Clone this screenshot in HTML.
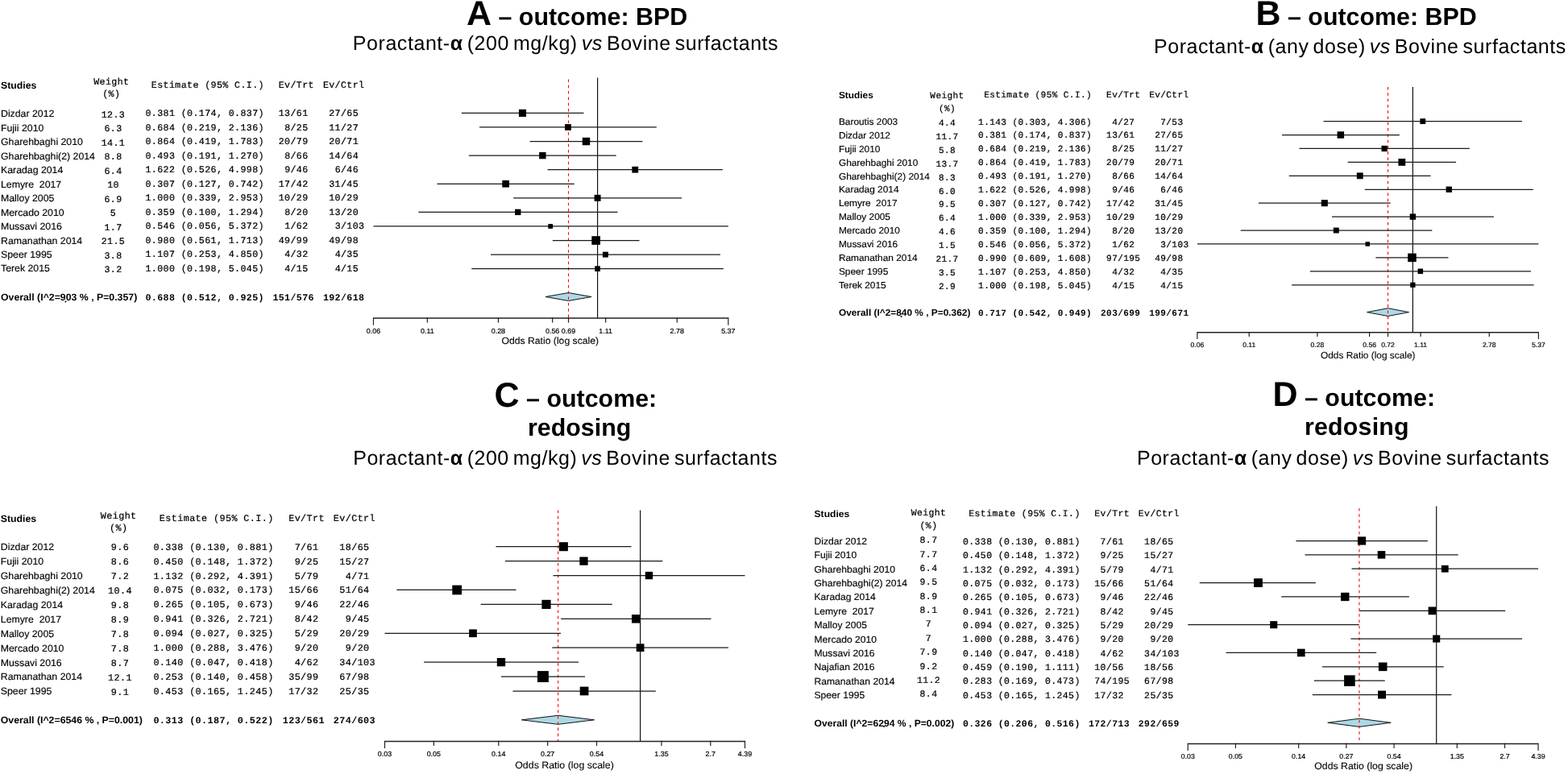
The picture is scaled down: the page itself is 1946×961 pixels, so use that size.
<!DOCTYPE html>
<html><head><meta charset="utf-8"><title>Forest plots</title>
<style>
html,body{margin:0;padding:0;background:#fff;}
svg{display:block;text-rendering:geometricPrecision;}
.s{font-family:"Liberation Sans",Arial,sans-serif;fill:#000;}
.m{font-family:"Liberation Mono","Courier New",monospace;fill:#000;}
.t{font-family:"Liberation Sans",Arial,sans-serif;fill:#000;}
.ci{stroke:#1a1a1a;stroke-width:1.25;}
</style></head>
<body>
<svg width="1946" height="961" viewBox="0 0 1946 961">
<rect width="1946" height="961" fill="#fff"/>
<text class="s" x="0.98" y="109.70" font-size="12" font-weight="bold" transform="scale(1.025,1)" xml:space="preserve">Studies</text>
<text class="m" x="116.19" y="105.00" font-size="11.61" letter-spacing="0.404" stroke="#000" stroke-width="0.22" xml:space="preserve">Weight</text>
<text class="m" x="127.25" y="120.00" font-size="11.61" letter-spacing="0.404" stroke="#000" stroke-width="0.22" xml:space="preserve">(%)</text>
<text class="m" x="180.50" y="108.50" font-size="11.61" letter-spacing="0.404" stroke="#000" stroke-width="0.22" xml:space="preserve"> Estimate (95% C.I.)</text>
<text class="m" x="345.76" y="108.50" font-size="11.61" letter-spacing="0.404" stroke="#000" stroke-width="0.22" xml:space="preserve">Ev/Trt</text>
<text class="m" x="400.89" y="108.50" font-size="11.61" letter-spacing="0.404" stroke="#000" stroke-width="0.22" xml:space="preserve">Ev/Ctrl</text>
<text class="s" x="0.98" y="145.10" font-size="12" stroke="#000" stroke-width="0.15" transform="scale(1.025,1)" xml:space="preserve">Dizdar 2012</text>
<text class="m" x="125.76" y="145.60" font-size="11.61" letter-spacing="0.404" stroke="#000" stroke-width="0.22" xml:space="preserve">12.3</text>
<text class="m" x="180.50" y="144.30" font-size="11.61" letter-spacing="0.404" stroke="#000" stroke-width="0.22" xml:space="preserve">0.381 (0.174, 0.837)</text>
<text class="m" x="345.76" y="144.30" font-size="11.61" letter-spacing="0.404" stroke="#000" stroke-width="0.22" xml:space="preserve">13/61</text>
<text class="m" x="408.26" y="144.30" font-size="11.61" letter-spacing="0.404" stroke="#000" stroke-width="0.22" xml:space="preserve">27/65</text>
<text class="s" x="0.98" y="162.59" font-size="12" stroke="#000" stroke-width="0.15" transform="scale(1.025,1)" xml:space="preserve">Fujii 2010</text>
<text class="m" x="129.44" y="163.09" font-size="11.61" letter-spacing="0.404" stroke="#000" stroke-width="0.22" xml:space="preserve">6.3</text>
<text class="m" x="180.50" y="161.79" font-size="11.61" letter-spacing="0.404" stroke="#000" stroke-width="0.22" xml:space="preserve">0.684 (0.219, 2.136)</text>
<text class="m" x="353.13" y="161.79" font-size="11.61" letter-spacing="0.404" stroke="#000" stroke-width="0.22" xml:space="preserve">8/25</text>
<text class="m" x="408.26" y="161.79" font-size="11.61" letter-spacing="0.404" stroke="#000" stroke-width="0.22" xml:space="preserve">11/27</text>
<text class="s" x="0.98" y="180.08" font-size="12" stroke="#000" stroke-width="0.15" transform="scale(1.025,1)" xml:space="preserve">Gharehbaghi 2010</text>
<text class="m" x="125.76" y="180.58" font-size="11.61" letter-spacing="0.404" stroke="#000" stroke-width="0.22" xml:space="preserve">14.1</text>
<text class="m" x="180.50" y="179.28" font-size="11.61" letter-spacing="0.404" stroke="#000" stroke-width="0.22" xml:space="preserve">0.864 (0.419, 1.783)</text>
<text class="m" x="345.76" y="179.28" font-size="11.61" letter-spacing="0.404" stroke="#000" stroke-width="0.22" xml:space="preserve">20/79</text>
<text class="m" x="408.26" y="179.28" font-size="11.61" letter-spacing="0.404" stroke="#000" stroke-width="0.22" xml:space="preserve">20/71</text>
<text class="s" x="0.98" y="197.57" font-size="12" stroke="#000" stroke-width="0.15" transform="scale(1.025,1)" xml:space="preserve">Gharehbaghi(2) 2014</text>
<text class="m" x="129.44" y="198.07" font-size="11.61" letter-spacing="0.404" stroke="#000" stroke-width="0.22" xml:space="preserve">8.8</text>
<text class="m" x="180.50" y="196.77" font-size="11.61" letter-spacing="0.404" stroke="#000" stroke-width="0.22" xml:space="preserve">0.493 (0.191, 1.270)</text>
<text class="m" x="353.13" y="196.77" font-size="11.61" letter-spacing="0.404" stroke="#000" stroke-width="0.22" xml:space="preserve">8/66</text>
<text class="m" x="408.26" y="196.77" font-size="11.61" letter-spacing="0.404" stroke="#000" stroke-width="0.22" xml:space="preserve">14/64</text>
<text class="s" x="0.98" y="215.06" font-size="12" stroke="#000" stroke-width="0.15" transform="scale(1.025,1)" xml:space="preserve">Karadag 2014</text>
<text class="m" x="129.44" y="215.56" font-size="11.61" letter-spacing="0.404" stroke="#000" stroke-width="0.22" xml:space="preserve">6.4</text>
<text class="m" x="180.50" y="214.26" font-size="11.61" letter-spacing="0.404" stroke="#000" stroke-width="0.22" xml:space="preserve">1.622 (0.526, 4.998)</text>
<text class="m" x="353.13" y="214.26" font-size="11.61" letter-spacing="0.404" stroke="#000" stroke-width="0.22" xml:space="preserve">9/46</text>
<text class="m" x="415.63" y="214.26" font-size="11.61" letter-spacing="0.404" stroke="#000" stroke-width="0.22" xml:space="preserve">6/46</text>
<text class="s" x="0.98" y="232.55" font-size="12" stroke="#000" stroke-width="0.15" transform="scale(1.025,1)" xml:space="preserve">Lemyre  2017</text>
<text class="m" x="133.13" y="233.05" font-size="11.61" letter-spacing="0.404" stroke="#000" stroke-width="0.22" xml:space="preserve">10</text>
<text class="m" x="180.50" y="231.75" font-size="11.61" letter-spacing="0.404" stroke="#000" stroke-width="0.22" xml:space="preserve">0.307 (0.127, 0.742)</text>
<text class="m" x="345.76" y="231.75" font-size="11.61" letter-spacing="0.404" stroke="#000" stroke-width="0.22" xml:space="preserve">17/42</text>
<text class="m" x="408.26" y="231.75" font-size="11.61" letter-spacing="0.404" stroke="#000" stroke-width="0.22" xml:space="preserve">31/45</text>
<text class="s" x="0.98" y="250.04" font-size="12" stroke="#000" stroke-width="0.15" transform="scale(1.025,1)" xml:space="preserve">Malloy 2005</text>
<text class="m" x="129.44" y="250.54" font-size="11.61" letter-spacing="0.404" stroke="#000" stroke-width="0.22" xml:space="preserve">6.9</text>
<text class="m" x="180.50" y="249.24" font-size="11.61" letter-spacing="0.404" stroke="#000" stroke-width="0.22" xml:space="preserve">1.000 (0.339, 2.953)</text>
<text class="m" x="345.76" y="249.24" font-size="11.61" letter-spacing="0.404" stroke="#000" stroke-width="0.22" xml:space="preserve">10/29</text>
<text class="m" x="408.26" y="249.24" font-size="11.61" letter-spacing="0.404" stroke="#000" stroke-width="0.22" xml:space="preserve">10/29</text>
<text class="s" x="0.98" y="267.53" font-size="12" stroke="#000" stroke-width="0.15" transform="scale(1.025,1)" xml:space="preserve">Mercado 2010</text>
<text class="m" x="136.81" y="268.03" font-size="11.61" letter-spacing="0.404" stroke="#000" stroke-width="0.22" xml:space="preserve">5</text>
<text class="m" x="180.50" y="266.73" font-size="11.61" letter-spacing="0.404" stroke="#000" stroke-width="0.22" xml:space="preserve">0.359 (0.100, 1.294)</text>
<text class="m" x="353.13" y="266.73" font-size="11.61" letter-spacing="0.404" stroke="#000" stroke-width="0.22" xml:space="preserve">8/20</text>
<text class="m" x="408.26" y="266.73" font-size="11.61" letter-spacing="0.404" stroke="#000" stroke-width="0.22" xml:space="preserve">13/20</text>
<text class="s" x="0.98" y="285.02" font-size="12" stroke="#000" stroke-width="0.15" transform="scale(1.025,1)" xml:space="preserve">Mussavi 2016</text>
<text class="m" x="129.44" y="285.52" font-size="11.61" letter-spacing="0.404" stroke="#000" stroke-width="0.22" xml:space="preserve">1.7</text>
<text class="m" x="180.50" y="284.22" font-size="11.61" letter-spacing="0.404" stroke="#000" stroke-width="0.22" xml:space="preserve">0.546 (0.056, 5.372)</text>
<text class="m" x="353.13" y="284.22" font-size="11.61" letter-spacing="0.404" stroke="#000" stroke-width="0.22" xml:space="preserve">1/62</text>
<text class="m" x="415.63" y="284.22" font-size="11.61" letter-spacing="0.404" stroke="#000" stroke-width="0.22" xml:space="preserve">3/103</text>
<text class="s" x="0.98" y="302.51" font-size="12" stroke="#000" stroke-width="0.15" transform="scale(1.025,1)" xml:space="preserve">Ramanathan 2014</text>
<text class="m" x="125.76" y="303.01" font-size="11.61" letter-spacing="0.404" stroke="#000" stroke-width="0.22" xml:space="preserve">21.5</text>
<text class="m" x="180.50" y="301.71" font-size="11.61" letter-spacing="0.404" stroke="#000" stroke-width="0.22" xml:space="preserve">0.980 (0.561, 1.713)</text>
<text class="m" x="345.76" y="301.71" font-size="11.61" letter-spacing="0.404" stroke="#000" stroke-width="0.22" xml:space="preserve">49/99</text>
<text class="m" x="408.26" y="301.71" font-size="11.61" letter-spacing="0.404" stroke="#000" stroke-width="0.22" xml:space="preserve">49/98</text>
<text class="s" x="0.98" y="320.00" font-size="12" stroke="#000" stroke-width="0.15" transform="scale(1.025,1)" xml:space="preserve">Speer 1995</text>
<text class="m" x="129.44" y="320.50" font-size="11.61" letter-spacing="0.404" stroke="#000" stroke-width="0.22" xml:space="preserve">3.8</text>
<text class="m" x="180.50" y="319.20" font-size="11.61" letter-spacing="0.404" stroke="#000" stroke-width="0.22" xml:space="preserve">1.107 (0.253, 4.850)</text>
<text class="m" x="353.13" y="319.20" font-size="11.61" letter-spacing="0.404" stroke="#000" stroke-width="0.22" xml:space="preserve">4/32</text>
<text class="m" x="415.63" y="319.20" font-size="11.61" letter-spacing="0.404" stroke="#000" stroke-width="0.22" xml:space="preserve">4/35</text>
<text class="s" x="0.98" y="337.49" font-size="12" stroke="#000" stroke-width="0.15" transform="scale(1.025,1)" xml:space="preserve">Terek 2015</text>
<text class="m" x="129.44" y="337.99" font-size="11.61" letter-spacing="0.404" stroke="#000" stroke-width="0.22" xml:space="preserve">3.2</text>
<text class="m" x="180.50" y="336.69" font-size="11.61" letter-spacing="0.404" stroke="#000" stroke-width="0.22" xml:space="preserve">1.000 (0.198, 5.045)</text>
<text class="m" x="353.13" y="336.69" font-size="11.61" letter-spacing="0.404" stroke="#000" stroke-width="0.22" xml:space="preserve">4/15</text>
<text class="m" x="415.63" y="336.69" font-size="11.61" letter-spacing="0.404" stroke="#000" stroke-width="0.22" xml:space="preserve">4/15</text>
<text class="s" x="0.98" y="373.40" font-size="12" font-weight="bold" transform="scale(1.025,1)" xml:space="preserve">Overall (I^2=903 % , P=0.357)</text>
<text class="m" x="180.50" y="372.60" font-size="11.61" letter-spacing="0.404" font-weight="bold" xml:space="preserve">0.688 (0.512, 0.925)</text>
<text class="m" x="338.39" y="372.60" font-size="11.61" letter-spacing="0.404" font-weight="bold" xml:space="preserve">151/576</text>
<text class="m" x="400.89" y="372.60" font-size="11.61" letter-spacing="0.404" font-weight="bold" xml:space="preserve">192/618</text>
<circle cx="81.40" cy="374.40" r="1.0" fill="#000"/>
<polygon points="677.00,368.50 705.51,363.50 734.08,368.50 705.51,373.50" fill="#add8e6" stroke="#111" stroke-width="1"/>
<line x1="741.60" y1="96.60" x2="741.60" y2="395.10" stroke="#111" stroke-width="1.2"/>
<line x1="705.51" y1="98.50" x2="705.51" y2="395.10" stroke="#f00" stroke-width="1.1" stroke-dasharray="3.5,3.8"/>
<line x1="572.85" y1="140.40" x2="724.43" y2="140.40" class="ci"/>
<line x1="595.05" y1="157.97" x2="814.84" y2="157.97" class="ci"/>
<line x1="657.66" y1="175.54" x2="797.41" y2="175.54" class="ci"/>
<line x1="581.85" y1="193.11" x2="764.67" y2="193.11" class="ci"/>
<line x1="679.60" y1="210.68" x2="896.87" y2="210.68" class="ci"/>
<line x1="542.47" y1="228.25" x2="712.80" y2="228.25" class="ci"/>
<line x1="637.21" y1="245.82" x2="846.09" y2="245.82" class="ci"/>
<line x1="519.40" y1="263.39" x2="766.47" y2="263.39" class="ci"/>
<line x1="463.45" y1="280.96" x2="903.84" y2="280.96" class="ci"/>
<line x1="685.82" y1="298.53" x2="793.54" y2="298.53" class="ci"/>
<line x1="608.97" y1="316.10" x2="893.97" y2="316.10" class="ci"/>
<line x1="585.32" y1="333.67" x2="897.78" y2="333.67" class="ci"/>
<rect x="643.91" y="135.83" width="9.15" height="9.15" fill="#000"/>
<rect x="701.07" y="154.09" width="7.77" height="7.77" fill="#000"/>
<rect x="722.75" y="170.80" width="9.49" height="9.49" fill="#000"/>
<rect x="669.14" y="188.90" width="8.42" height="8.42" fill="#000"/>
<rect x="784.37" y="206.78" width="7.80" height="7.80" fill="#000"/>
<rect x="623.30" y="223.91" width="8.69" height="8.69" fill="#000"/>
<rect x="737.63" y="241.85" width="7.94" height="7.94" fill="#000"/>
<rect x="639.05" y="259.70" width="7.38" height="7.38" fill="#000"/>
<rect x="680.32" y="278.07" width="5.78" height="5.78" fill="#000"/>
<rect x="734.32" y="293.20" width="10.67" height="10.67" fill="#000"/>
<rect x="747.94" y="312.63" width="6.94" height="6.94" fill="#000"/>
<rect x="738.26" y="330.33" width="6.67" height="6.67" fill="#000"/>
<line x1="463.45" y1="395.10" x2="903.84" y2="395.10" stroke="#222" stroke-width="1.5"/>
<line x1="463.45" y1="394.35" x2="463.45" y2="403.70" stroke="#222" stroke-width="1.2"/>
<text class="s" x="452.14" y="414.20" font-size="8.7" stroke="#000" stroke-width="0.2" text-anchor="middle" transform="scale(1.025,1)" xml:space="preserve">0.06</text>
<line x1="530.34" y1="394.35" x2="530.34" y2="400.60" stroke="#222" stroke-width="1.2"/>
<text class="s" x="517.40" y="414.20" font-size="8.7" stroke="#000" stroke-width="0.2" text-anchor="middle" transform="scale(1.025,1)" xml:space="preserve">0.11</text>
<line x1="618.41" y1="394.35" x2="618.41" y2="400.60" stroke="#222" stroke-width="1.2"/>
<text class="s" x="603.33" y="414.20" font-size="8.7" stroke="#000" stroke-width="0.2" text-anchor="middle" transform="scale(1.025,1)" xml:space="preserve">0.28</text>
<line x1="685.65" y1="394.35" x2="685.65" y2="400.60" stroke="#222" stroke-width="1.2"/>
<text class="s" x="668.92" y="414.20" font-size="8.7" stroke="#000" stroke-width="0.2" text-anchor="middle" transform="scale(1.025,1)" xml:space="preserve">0.56</text>
<line x1="705.51" y1="394.35" x2="705.51" y2="400.60" stroke="#222" stroke-width="1.2"/>
<text class="s" x="688.30" y="414.20" font-size="8.7" stroke="#000" stroke-width="0.2" text-anchor="middle" transform="scale(1.025,1)" xml:space="preserve">0.69</text>
<line x1="751.67" y1="394.35" x2="751.67" y2="400.60" stroke="#222" stroke-width="1.2"/>
<text class="s" x="733.34" y="414.20" font-size="8.7" stroke="#000" stroke-width="0.2" text-anchor="middle" transform="scale(1.025,1)" xml:space="preserve">1.11</text>
<line x1="840.27" y1="394.35" x2="840.27" y2="400.60" stroke="#222" stroke-width="1.2"/>
<text class="s" x="819.77" y="414.20" font-size="8.7" stroke="#000" stroke-width="0.2" text-anchor="middle" transform="scale(1.025,1)" xml:space="preserve">2.78</text>
<line x1="903.84" y1="394.35" x2="903.84" y2="403.70" stroke="#222" stroke-width="1.2"/>
<text class="s" x="881.79" y="414.20" font-size="8.7" stroke="#000" stroke-width="0.2" text-anchor="middle" transform="scale(1.025,1)" xml:space="preserve">5.37</text>
<text class="s" x="607.32" y="426.90" font-size="11.9" stroke="#000" stroke-width="0.1" transform="scale(1.025,1)" xml:space="preserve">Odds Ratio (log scale)</text>
<text class="s" x="1015.51" y="121.50" font-size="11.6" font-weight="bold" transform="scale(1.025,1)" xml:space="preserve">Studies</text>
<text class="m" x="1154.35" y="121.70" font-size="11.1" letter-spacing="0.390" stroke="#000" stroke-width="0.22" xml:space="preserve">Weight</text>
<text class="m" x="1164.92" y="137.50" font-size="11.1" letter-spacing="0.390" stroke="#000" stroke-width="0.22" xml:space="preserve">(%)</text>
<text class="m" x="1214.10" y="120.70" font-size="11.1" letter-spacing="0.390" stroke="#000" stroke-width="0.22" xml:space="preserve"> Estimate (95% C.I.)</text>
<text class="m" x="1373.10" y="120.70" font-size="11.1" letter-spacing="0.390" stroke="#000" stroke-width="0.22" xml:space="preserve">Ev/Trt</text>
<text class="m" x="1426.15" y="120.70" font-size="11.1" letter-spacing="0.390" stroke="#000" stroke-width="0.22" xml:space="preserve">Ev/Ctrl</text>
<text class="s" x="1015.51" y="154.75" font-size="11.6" stroke="#000" stroke-width="0.15" transform="scale(1.025,1)" xml:space="preserve">Baroutis 2003</text>
<text class="m" x="1164.92" y="155.85" font-size="11.1" letter-spacing="0.390" stroke="#000" stroke-width="0.22" xml:space="preserve">4.4</text>
<text class="m" x="1214.10" y="154.55" font-size="11.1" letter-spacing="0.390" stroke="#000" stroke-width="0.22" xml:space="preserve">1.143 (0.303, 4.306)</text>
<text class="m" x="1380.15" y="154.55" font-size="11.1" letter-spacing="0.390" stroke="#000" stroke-width="0.22" xml:space="preserve">4/27</text>
<text class="m" x="1440.25" y="154.55" font-size="11.1" letter-spacing="0.390" stroke="#000" stroke-width="0.22" xml:space="preserve">7/53</text>
<text class="s" x="1015.51" y="171.69" font-size="11.6" stroke="#000" stroke-width="0.15" transform="scale(1.025,1)" xml:space="preserve">Dizdar 2012</text>
<text class="m" x="1161.40" y="172.79" font-size="11.1" letter-spacing="0.390" stroke="#000" stroke-width="0.22" xml:space="preserve">11.7</text>
<text class="m" x="1214.10" y="171.49" font-size="11.1" letter-spacing="0.390" stroke="#000" stroke-width="0.22" xml:space="preserve">0.381 (0.174, 0.837)</text>
<text class="m" x="1373.10" y="171.49" font-size="11.1" letter-spacing="0.390" stroke="#000" stroke-width="0.22" xml:space="preserve">13/61</text>
<text class="m" x="1433.20" y="171.49" font-size="11.1" letter-spacing="0.390" stroke="#000" stroke-width="0.22" xml:space="preserve">27/65</text>
<text class="s" x="1015.51" y="188.63" font-size="11.6" stroke="#000" stroke-width="0.15" transform="scale(1.025,1)" xml:space="preserve">Fujii 2010</text>
<text class="m" x="1164.92" y="189.73" font-size="11.1" letter-spacing="0.390" stroke="#000" stroke-width="0.22" xml:space="preserve">5.8</text>
<text class="m" x="1214.10" y="188.43" font-size="11.1" letter-spacing="0.390" stroke="#000" stroke-width="0.22" xml:space="preserve">0.684 (0.219, 2.136)</text>
<text class="m" x="1380.15" y="188.43" font-size="11.1" letter-spacing="0.390" stroke="#000" stroke-width="0.22" xml:space="preserve">8/25</text>
<text class="m" x="1433.20" y="188.43" font-size="11.1" letter-spacing="0.390" stroke="#000" stroke-width="0.22" xml:space="preserve">11/27</text>
<text class="s" x="1015.51" y="205.57" font-size="11.6" stroke="#000" stroke-width="0.15" transform="scale(1.025,1)" xml:space="preserve">Gharehbaghi 2010</text>
<text class="m" x="1161.40" y="206.67" font-size="11.1" letter-spacing="0.390" stroke="#000" stroke-width="0.22" xml:space="preserve">13.7</text>
<text class="m" x="1214.10" y="205.37" font-size="11.1" letter-spacing="0.390" stroke="#000" stroke-width="0.22" xml:space="preserve">0.864 (0.419, 1.783)</text>
<text class="m" x="1373.10" y="205.37" font-size="11.1" letter-spacing="0.390" stroke="#000" stroke-width="0.22" xml:space="preserve">20/79</text>
<text class="m" x="1433.20" y="205.37" font-size="11.1" letter-spacing="0.390" stroke="#000" stroke-width="0.22" xml:space="preserve">20/71</text>
<text class="s" x="1015.51" y="222.51" font-size="11.6" stroke="#000" stroke-width="0.15" transform="scale(1.025,1)" xml:space="preserve">Gharehbaghi(2) 2014</text>
<text class="m" x="1164.92" y="223.61" font-size="11.1" letter-spacing="0.390" stroke="#000" stroke-width="0.22" xml:space="preserve">8.3</text>
<text class="m" x="1214.10" y="222.31" font-size="11.1" letter-spacing="0.390" stroke="#000" stroke-width="0.22" xml:space="preserve">0.493 (0.191, 1.270)</text>
<text class="m" x="1380.15" y="222.31" font-size="11.1" letter-spacing="0.390" stroke="#000" stroke-width="0.22" xml:space="preserve">8/66</text>
<text class="m" x="1433.20" y="222.31" font-size="11.1" letter-spacing="0.390" stroke="#000" stroke-width="0.22" xml:space="preserve">14/64</text>
<text class="s" x="1015.51" y="239.45" font-size="11.6" stroke="#000" stroke-width="0.15" transform="scale(1.025,1)" xml:space="preserve">Karadag 2014</text>
<text class="m" x="1164.92" y="240.55" font-size="11.1" letter-spacing="0.390" stroke="#000" stroke-width="0.22" xml:space="preserve">6.0</text>
<text class="m" x="1214.10" y="239.25" font-size="11.1" letter-spacing="0.390" stroke="#000" stroke-width="0.22" xml:space="preserve">1.622 (0.526, 4.998)</text>
<text class="m" x="1380.15" y="239.25" font-size="11.1" letter-spacing="0.390" stroke="#000" stroke-width="0.22" xml:space="preserve">9/46</text>
<text class="m" x="1440.25" y="239.25" font-size="11.1" letter-spacing="0.390" stroke="#000" stroke-width="0.22" xml:space="preserve">6/46</text>
<text class="s" x="1015.51" y="256.39" font-size="11.6" stroke="#000" stroke-width="0.15" transform="scale(1.025,1)" xml:space="preserve">Lemyre  2017</text>
<text class="m" x="1164.92" y="257.49" font-size="11.1" letter-spacing="0.390" stroke="#000" stroke-width="0.22" xml:space="preserve">9.5</text>
<text class="m" x="1214.10" y="256.19" font-size="11.1" letter-spacing="0.390" stroke="#000" stroke-width="0.22" xml:space="preserve">0.307 (0.127, 0.742)</text>
<text class="m" x="1373.10" y="256.19" font-size="11.1" letter-spacing="0.390" stroke="#000" stroke-width="0.22" xml:space="preserve">17/42</text>
<text class="m" x="1433.20" y="256.19" font-size="11.1" letter-spacing="0.390" stroke="#000" stroke-width="0.22" xml:space="preserve">31/45</text>
<text class="s" x="1015.51" y="273.33" font-size="11.6" stroke="#000" stroke-width="0.15" transform="scale(1.025,1)" xml:space="preserve">Malloy 2005</text>
<text class="m" x="1164.92" y="274.43" font-size="11.1" letter-spacing="0.390" stroke="#000" stroke-width="0.22" xml:space="preserve">6.4</text>
<text class="m" x="1214.10" y="273.13" font-size="11.1" letter-spacing="0.390" stroke="#000" stroke-width="0.22" xml:space="preserve">1.000 (0.339, 2.953)</text>
<text class="m" x="1373.10" y="273.13" font-size="11.1" letter-spacing="0.390" stroke="#000" stroke-width="0.22" xml:space="preserve">10/29</text>
<text class="m" x="1433.20" y="273.13" font-size="11.1" letter-spacing="0.390" stroke="#000" stroke-width="0.22" xml:space="preserve">10/29</text>
<text class="s" x="1015.51" y="290.27" font-size="11.6" stroke="#000" stroke-width="0.15" transform="scale(1.025,1)" xml:space="preserve">Mercado 2010</text>
<text class="m" x="1164.92" y="291.37" font-size="11.1" letter-spacing="0.390" stroke="#000" stroke-width="0.22" xml:space="preserve">4.6</text>
<text class="m" x="1214.10" y="290.07" font-size="11.1" letter-spacing="0.390" stroke="#000" stroke-width="0.22" xml:space="preserve">0.359 (0.100, 1.294)</text>
<text class="m" x="1380.15" y="290.07" font-size="11.1" letter-spacing="0.390" stroke="#000" stroke-width="0.22" xml:space="preserve">8/20</text>
<text class="m" x="1433.20" y="290.07" font-size="11.1" letter-spacing="0.390" stroke="#000" stroke-width="0.22" xml:space="preserve">13/20</text>
<text class="s" x="1015.51" y="307.21" font-size="11.6" stroke="#000" stroke-width="0.15" transform="scale(1.025,1)" xml:space="preserve">Mussavi 2016</text>
<text class="m" x="1164.92" y="308.31" font-size="11.1" letter-spacing="0.390" stroke="#000" stroke-width="0.22" xml:space="preserve">1.5</text>
<text class="m" x="1214.10" y="307.01" font-size="11.1" letter-spacing="0.390" stroke="#000" stroke-width="0.22" xml:space="preserve">0.546 (0.056, 5.372)</text>
<text class="m" x="1380.15" y="307.01" font-size="11.1" letter-spacing="0.390" stroke="#000" stroke-width="0.22" xml:space="preserve">1/62</text>
<text class="m" x="1440.25" y="307.01" font-size="11.1" letter-spacing="0.390" stroke="#000" stroke-width="0.22" xml:space="preserve">3/103</text>
<text class="s" x="1015.51" y="324.15" font-size="11.6" stroke="#000" stroke-width="0.15" transform="scale(1.025,1)" xml:space="preserve">Ramanathan 2014</text>
<text class="m" x="1161.40" y="325.25" font-size="11.1" letter-spacing="0.390" stroke="#000" stroke-width="0.22" xml:space="preserve">21.7</text>
<text class="m" x="1214.10" y="323.95" font-size="11.1" letter-spacing="0.390" stroke="#000" stroke-width="0.22" xml:space="preserve">0.990 (0.609, 1.608)</text>
<text class="m" x="1373.10" y="323.95" font-size="11.1" letter-spacing="0.390" stroke="#000" stroke-width="0.22" xml:space="preserve">97/195</text>
<text class="m" x="1433.20" y="323.95" font-size="11.1" letter-spacing="0.390" stroke="#000" stroke-width="0.22" xml:space="preserve">49/98</text>
<text class="s" x="1015.51" y="341.09" font-size="11.6" stroke="#000" stroke-width="0.15" transform="scale(1.025,1)" xml:space="preserve">Speer 1995</text>
<text class="m" x="1164.92" y="342.19" font-size="11.1" letter-spacing="0.390" stroke="#000" stroke-width="0.22" xml:space="preserve">3.5</text>
<text class="m" x="1214.10" y="340.89" font-size="11.1" letter-spacing="0.390" stroke="#000" stroke-width="0.22" xml:space="preserve">1.107 (0.253, 4.850)</text>
<text class="m" x="1380.15" y="340.89" font-size="11.1" letter-spacing="0.390" stroke="#000" stroke-width="0.22" xml:space="preserve">4/32</text>
<text class="m" x="1440.25" y="340.89" font-size="11.1" letter-spacing="0.390" stroke="#000" stroke-width="0.22" xml:space="preserve">4/35</text>
<text class="s" x="1015.51" y="358.03" font-size="11.6" stroke="#000" stroke-width="0.15" transform="scale(1.025,1)" xml:space="preserve">Terek 2015</text>
<text class="m" x="1164.92" y="359.13" font-size="11.1" letter-spacing="0.390" stroke="#000" stroke-width="0.22" xml:space="preserve">2.9</text>
<text class="m" x="1214.10" y="357.83" font-size="11.1" letter-spacing="0.390" stroke="#000" stroke-width="0.22" xml:space="preserve">1.000 (0.198, 5.045)</text>
<text class="m" x="1380.15" y="357.83" font-size="11.1" letter-spacing="0.390" stroke="#000" stroke-width="0.22" xml:space="preserve">4/15</text>
<text class="m" x="1440.25" y="357.83" font-size="11.1" letter-spacing="0.390" stroke="#000" stroke-width="0.22" xml:space="preserve">4/15</text>
<text class="s" x="1015.51" y="391.80" font-size="11.6" font-weight="bold" transform="scale(1.025,1)" xml:space="preserve">Overall (I^2=840 % , P=0.362)</text>
<text class="m" x="1214.10" y="391.60" font-size="11.1" letter-spacing="0.390" font-weight="bold" xml:space="preserve">0.717 (0.542, 0.949)</text>
<text class="m" x="1366.05" y="391.60" font-size="11.1" letter-spacing="0.390" font-weight="bold" xml:space="preserve">203/699</text>
<text class="m" x="1426.15" y="391.60" font-size="11.1" letter-spacing="0.390" font-weight="bold" xml:space="preserve">199/671</text>
<circle cx="1118.60" cy="393.10" r="1.0" fill="#000"/>
<polygon points="1696.56,387.60 1722.53,382.70 1748.54,387.60 1722.53,392.50" fill="#add8e6" stroke="#111" stroke-width="1"/>
<line x1="1753.40" y1="108.00" x2="1753.40" y2="412.80" stroke="#111" stroke-width="1.2"/>
<line x1="1722.53" y1="108.00" x2="1722.53" y2="412.80" stroke="#f00" stroke-width="1.1" stroke-dasharray="3.5,3.8"/>
<line x1="1642.59" y1="150.60" x2="1888.89" y2="150.60" class="ci"/>
<line x1="1591.12" y1="167.53" x2="1736.89" y2="167.53" class="ci"/>
<line x1="1612.47" y1="184.46" x2="1823.83" y2="184.46" class="ci"/>
<line x1="1672.67" y1="201.39" x2="1807.07" y2="201.39" class="ci"/>
<line x1="1599.77" y1="218.32" x2="1775.58" y2="218.32" class="ci"/>
<line x1="1693.78" y1="235.25" x2="1902.72" y2="235.25" class="ci"/>
<line x1="1561.90" y1="252.18" x2="1725.71" y2="252.18" class="ci"/>
<line x1="1653.01" y1="269.11" x2="1853.89" y2="269.11" class="ci"/>
<line x1="1539.72" y1="286.04" x2="1777.32" y2="286.04" class="ci"/>
<line x1="1485.91" y1="302.97" x2="1909.42" y2="302.97" class="ci"/>
<line x1="1707.38" y1="319.90" x2="1797.48" y2="319.90" class="ci"/>
<line x1="1625.86" y1="336.83" x2="1899.93" y2="336.83" class="ci"/>
<line x1="1603.11" y1="353.76" x2="1903.59" y2="353.76" class="ci"/>
<rect x="1762.39" y="147.19" width="6.82" height="6.82" fill="#000"/>
<rect x="1659.58" y="163.26" width="8.54" height="8.54" fill="#000"/>
<rect x="1714.52" y="180.82" width="7.28" height="7.28" fill="#000"/>
<rect x="1735.41" y="196.97" width="8.85" height="8.85" fill="#000"/>
<rect x="1683.83" y="214.38" width="7.87" height="7.87" fill="#000"/>
<rect x="1794.63" y="231.59" width="7.31" height="7.31" fill="#000"/>
<rect x="1639.75" y="248.12" width="8.12" height="8.12" fill="#000"/>
<rect x="1749.68" y="265.39" width="7.44" height="7.44" fill="#000"/>
<rect x="1654.87" y="282.58" width="6.93" height="6.93" fill="#000"/>
<rect x="1694.51" y="300.24" width="5.47" height="5.47" fill="#000"/>
<rect x="1747.19" y="314.62" width="10.56" height="10.56" fill="#000"/>
<rect x="1759.57" y="333.57" width="6.53" height="6.53" fill="#000"/>
<rect x="1750.26" y="350.62" width="6.28" height="6.28" fill="#000"/>
<line x1="1485.91" y1="412.80" x2="1909.42" y2="412.80" stroke="#222" stroke-width="1.5"/>
<line x1="1485.91" y1="412.05" x2="1485.91" y2="421.10" stroke="#222" stroke-width="1.2"/>
<text class="s" x="1449.67" y="431.00" font-size="8.4" stroke="#000" stroke-width="0.2" text-anchor="middle" transform="scale(1.025,1)" xml:space="preserve">0.06</text>
<line x1="1550.24" y1="412.05" x2="1550.24" y2="418.10" stroke="#222" stroke-width="1.2"/>
<text class="s" x="1512.43" y="431.00" font-size="8.4" stroke="#000" stroke-width="0.2" text-anchor="middle" transform="scale(1.025,1)" xml:space="preserve">0.11</text>
<line x1="1634.94" y1="412.05" x2="1634.94" y2="418.10" stroke="#222" stroke-width="1.2"/>
<text class="s" x="1595.06" y="431.00" font-size="8.4" stroke="#000" stroke-width="0.2" text-anchor="middle" transform="scale(1.025,1)" xml:space="preserve">0.28</text>
<line x1="1699.59" y1="412.05" x2="1699.59" y2="418.10" stroke="#222" stroke-width="1.2"/>
<text class="s" x="1658.14" y="431.00" font-size="8.4" stroke="#000" stroke-width="0.2" text-anchor="middle" transform="scale(1.025,1)" xml:space="preserve">0.56</text>
<line x1="1722.53" y1="412.05" x2="1722.53" y2="418.10" stroke="#222" stroke-width="1.2"/>
<text class="s" x="1680.51" y="431.00" font-size="8.4" stroke="#000" stroke-width="0.2" text-anchor="middle" transform="scale(1.025,1)" xml:space="preserve">0.72</text>
<line x1="1763.08" y1="412.05" x2="1763.08" y2="418.10" stroke="#222" stroke-width="1.2"/>
<text class="s" x="1720.08" y="431.00" font-size="8.4" stroke="#000" stroke-width="0.2" text-anchor="middle" transform="scale(1.025,1)" xml:space="preserve">1.11</text>
<line x1="1848.28" y1="412.05" x2="1848.28" y2="418.10" stroke="#222" stroke-width="1.2"/>
<text class="s" x="1803.20" y="431.00" font-size="8.4" stroke="#000" stroke-width="0.2" text-anchor="middle" transform="scale(1.025,1)" xml:space="preserve">2.78</text>
<line x1="1909.42" y1="412.05" x2="1909.42" y2="421.10" stroke="#222" stroke-width="1.2"/>
<text class="s" x="1862.84" y="431.00" font-size="8.4" stroke="#000" stroke-width="0.2" text-anchor="middle" transform="scale(1.025,1)" xml:space="preserve">5.37</text>
<text class="s" x="1599.02" y="444.80" font-size="11.6" stroke="#000" stroke-width="0.1" transform="scale(1.025,1)" xml:space="preserve">Odds Ratio (log scale)</text>
<text class="s" x="0.78" y="647.80" font-size="12" font-weight="bold" transform="scale(1.025,1)" xml:space="preserve">Studies</text>
<text class="m" x="124.82" y="644.00" font-size="11.75" letter-spacing="0.410" stroke="#000" stroke-width="0.22" xml:space="preserve">Weight</text>
<text class="m" x="136.01" y="658.70" font-size="11.75" letter-spacing="0.410" stroke="#000" stroke-width="0.22" xml:space="preserve">(%)</text>
<text class="m" x="190.40" y="647.00" font-size="11.75" letter-spacing="0.410" stroke="#000" stroke-width="0.22" xml:space="preserve"> Estimate (95% C.I.)</text>
<text class="m" x="358.18" y="647.00" font-size="11.75" letter-spacing="0.410" stroke="#000" stroke-width="0.22" xml:space="preserve">Ev/Trt</text>
<text class="m" x="413.82" y="647.00" font-size="11.75" letter-spacing="0.410" stroke="#000" stroke-width="0.22" xml:space="preserve">Ev/Ctrl</text>
<text class="s" x="0.78" y="683.10" font-size="12" stroke="#000" stroke-width="0.15" transform="scale(1.025,1)" xml:space="preserve">Dizdar 2012</text>
<text class="m" x="137.81" y="683.30" font-size="11.75" letter-spacing="0.410" stroke="#000" stroke-width="0.22" xml:space="preserve">9.6</text>
<text class="m" x="190.40" y="682.70" font-size="11.75" letter-spacing="0.410" stroke="#000" stroke-width="0.22" xml:space="preserve">0.338 (0.130, 0.881)</text>
<text class="m" x="365.64" y="682.70" font-size="11.75" letter-spacing="0.410" stroke="#000" stroke-width="0.22" xml:space="preserve">7/61</text>
<text class="m" x="421.28" y="682.70" font-size="11.75" letter-spacing="0.410" stroke="#000" stroke-width="0.22" xml:space="preserve">18/65</text>
<text class="s" x="0.78" y="701.03" font-size="12" stroke="#000" stroke-width="0.15" transform="scale(1.025,1)" xml:space="preserve">Fujii 2010</text>
<text class="m" x="137.81" y="701.23" font-size="11.75" letter-spacing="0.410" stroke="#000" stroke-width="0.22" xml:space="preserve">8.6</text>
<text class="m" x="190.40" y="700.63" font-size="11.75" letter-spacing="0.410" stroke="#000" stroke-width="0.22" xml:space="preserve">0.450 (0.148, 1.372)</text>
<text class="m" x="365.64" y="700.63" font-size="11.75" letter-spacing="0.410" stroke="#000" stroke-width="0.22" xml:space="preserve">9/25</text>
<text class="m" x="421.28" y="700.63" font-size="11.75" letter-spacing="0.410" stroke="#000" stroke-width="0.22" xml:space="preserve">15/27</text>
<text class="s" x="0.78" y="718.96" font-size="12" stroke="#000" stroke-width="0.15" transform="scale(1.025,1)" xml:space="preserve">Gharehbaghi 2010</text>
<text class="m" x="137.81" y="719.16" font-size="11.75" letter-spacing="0.410" stroke="#000" stroke-width="0.22" xml:space="preserve">7.2</text>
<text class="m" x="190.40" y="718.56" font-size="11.75" letter-spacing="0.410" stroke="#000" stroke-width="0.22" xml:space="preserve">1.132 (0.292, 4.391)</text>
<text class="m" x="365.64" y="718.56" font-size="11.75" letter-spacing="0.410" stroke="#000" stroke-width="0.22" xml:space="preserve">5/79</text>
<text class="m" x="428.74" y="718.56" font-size="11.75" letter-spacing="0.410" stroke="#000" stroke-width="0.22" xml:space="preserve">4/71</text>
<text class="s" x="0.78" y="736.89" font-size="12" stroke="#000" stroke-width="0.15" transform="scale(1.025,1)" xml:space="preserve">Gharehbaghi(2) 2014</text>
<text class="m" x="134.08" y="737.09" font-size="11.75" letter-spacing="0.410" stroke="#000" stroke-width="0.22" xml:space="preserve">10.4</text>
<text class="m" x="190.40" y="736.49" font-size="11.75" letter-spacing="0.410" stroke="#000" stroke-width="0.22" xml:space="preserve">0.075 (0.032, 0.173)</text>
<text class="m" x="358.18" y="736.49" font-size="11.75" letter-spacing="0.410" stroke="#000" stroke-width="0.22" xml:space="preserve">15/66</text>
<text class="m" x="421.28" y="736.49" font-size="11.75" letter-spacing="0.410" stroke="#000" stroke-width="0.22" xml:space="preserve">51/64</text>
<text class="s" x="0.78" y="754.82" font-size="12" stroke="#000" stroke-width="0.15" transform="scale(1.025,1)" xml:space="preserve">Karadag 2014</text>
<text class="m" x="137.81" y="755.02" font-size="11.75" letter-spacing="0.410" stroke="#000" stroke-width="0.22" xml:space="preserve">9.8</text>
<text class="m" x="190.40" y="754.42" font-size="11.75" letter-spacing="0.410" stroke="#000" stroke-width="0.22" xml:space="preserve">0.265 (0.105, 0.673)</text>
<text class="m" x="365.64" y="754.42" font-size="11.75" letter-spacing="0.410" stroke="#000" stroke-width="0.22" xml:space="preserve">9/46</text>
<text class="m" x="421.28" y="754.42" font-size="11.75" letter-spacing="0.410" stroke="#000" stroke-width="0.22" xml:space="preserve">22/46</text>
<text class="s" x="0.78" y="772.75" font-size="12" stroke="#000" stroke-width="0.15" transform="scale(1.025,1)" xml:space="preserve">Lemyre  2017</text>
<text class="m" x="137.81" y="772.95" font-size="11.75" letter-spacing="0.410" stroke="#000" stroke-width="0.22" xml:space="preserve">8.9</text>
<text class="m" x="190.40" y="772.35" font-size="11.75" letter-spacing="0.410" stroke="#000" stroke-width="0.22" xml:space="preserve">0.941 (0.326, 2.721)</text>
<text class="m" x="365.64" y="772.35" font-size="11.75" letter-spacing="0.410" stroke="#000" stroke-width="0.22" xml:space="preserve">8/42</text>
<text class="m" x="428.74" y="772.35" font-size="11.75" letter-spacing="0.410" stroke="#000" stroke-width="0.22" xml:space="preserve">9/45</text>
<text class="s" x="0.78" y="790.68" font-size="12" stroke="#000" stroke-width="0.15" transform="scale(1.025,1)" xml:space="preserve">Malloy 2005</text>
<text class="m" x="137.81" y="790.88" font-size="11.75" letter-spacing="0.410" stroke="#000" stroke-width="0.22" xml:space="preserve">7.8</text>
<text class="m" x="190.40" y="790.28" font-size="11.75" letter-spacing="0.410" stroke="#000" stroke-width="0.22" xml:space="preserve">0.094 (0.027, 0.325)</text>
<text class="m" x="365.64" y="790.28" font-size="11.75" letter-spacing="0.410" stroke="#000" stroke-width="0.22" xml:space="preserve">5/29</text>
<text class="m" x="421.28" y="790.28" font-size="11.75" letter-spacing="0.410" stroke="#000" stroke-width="0.22" xml:space="preserve">20/29</text>
<text class="s" x="0.78" y="808.61" font-size="12" stroke="#000" stroke-width="0.15" transform="scale(1.025,1)" xml:space="preserve">Mercado 2010</text>
<text class="m" x="137.81" y="808.81" font-size="11.75" letter-spacing="0.410" stroke="#000" stroke-width="0.22" xml:space="preserve">7.8</text>
<text class="m" x="190.40" y="808.21" font-size="11.75" letter-spacing="0.410" stroke="#000" stroke-width="0.22" xml:space="preserve">1.000 (0.288, 3.476)</text>
<text class="m" x="365.64" y="808.21" font-size="11.75" letter-spacing="0.410" stroke="#000" stroke-width="0.22" xml:space="preserve">9/20</text>
<text class="m" x="428.74" y="808.21" font-size="11.75" letter-spacing="0.410" stroke="#000" stroke-width="0.22" xml:space="preserve">9/20</text>
<text class="s" x="0.78" y="826.54" font-size="12" stroke="#000" stroke-width="0.15" transform="scale(1.025,1)" xml:space="preserve">Mussavi 2016</text>
<text class="m" x="137.81" y="826.74" font-size="11.75" letter-spacing="0.410" stroke="#000" stroke-width="0.22" xml:space="preserve">8.7</text>
<text class="m" x="190.40" y="826.14" font-size="11.75" letter-spacing="0.410" stroke="#000" stroke-width="0.22" xml:space="preserve">0.140 (0.047, 0.418)</text>
<text class="m" x="365.64" y="826.14" font-size="11.75" letter-spacing="0.410" stroke="#000" stroke-width="0.22" xml:space="preserve">4/62</text>
<text class="m" x="421.28" y="826.14" font-size="11.75" letter-spacing="0.410" stroke="#000" stroke-width="0.22" xml:space="preserve">34/103</text>
<text class="s" x="0.78" y="844.47" font-size="12" stroke="#000" stroke-width="0.15" transform="scale(1.025,1)" xml:space="preserve">Ramanathan 2014</text>
<text class="m" x="134.08" y="844.67" font-size="11.75" letter-spacing="0.410" stroke="#000" stroke-width="0.22" xml:space="preserve">12.1</text>
<text class="m" x="190.40" y="844.07" font-size="11.75" letter-spacing="0.410" stroke="#000" stroke-width="0.22" xml:space="preserve">0.253 (0.140, 0.458)</text>
<text class="m" x="358.18" y="844.07" font-size="11.75" letter-spacing="0.410" stroke="#000" stroke-width="0.22" xml:space="preserve">35/99</text>
<text class="m" x="421.28" y="844.07" font-size="11.75" letter-spacing="0.410" stroke="#000" stroke-width="0.22" xml:space="preserve">67/98</text>
<text class="s" x="0.78" y="862.40" font-size="12" stroke="#000" stroke-width="0.15" transform="scale(1.025,1)" xml:space="preserve">Speer 1995</text>
<text class="m" x="137.81" y="862.60" font-size="11.75" letter-spacing="0.410" stroke="#000" stroke-width="0.22" xml:space="preserve">9.1</text>
<text class="m" x="190.40" y="862.00" font-size="11.75" letter-spacing="0.410" stroke="#000" stroke-width="0.22" xml:space="preserve">0.453 (0.165, 1.245)</text>
<text class="m" x="358.18" y="862.00" font-size="11.75" letter-spacing="0.410" stroke="#000" stroke-width="0.22" xml:space="preserve">17/32</text>
<text class="m" x="421.28" y="862.00" font-size="11.75" letter-spacing="0.410" stroke="#000" stroke-width="0.22" xml:space="preserve">25/35</text>
<text class="s" x="0.78" y="898.40" font-size="12" font-weight="bold" transform="scale(1.025,1)" xml:space="preserve">Overall (I^2=6546 % , P=0.001)</text>
<text class="m" x="190.40" y="898.00" font-size="11.75" letter-spacing="0.410" font-weight="bold" xml:space="preserve">0.313 (0.187, 0.522)</text>
<text class="m" x="350.72" y="898.00" font-size="11.75" letter-spacing="0.410" font-weight="bold" xml:space="preserve">123/561</text>
<text class="m" x="413.82" y="898.00" font-size="11.75" letter-spacing="0.410" font-weight="bold" xml:space="preserve">274/603</text>
<circle cx="-10.00" cy="-10.00" r="1.0" fill="#000"/>
<polygon points="647.39,893.80 692.62,888.30 737.52,893.80 692.62,899.30" fill="#add8e6" stroke="#111" stroke-width="1"/>
<line x1="794.60" y1="633.40" x2="794.60" y2="920.50" stroke="#111" stroke-width="1.2"/>
<line x1="692.62" y1="633.40" x2="692.62" y2="920.50" stroke="#f00" stroke-width="1.1" stroke-dasharray="3.5,3.8"/>
<line x1="615.47" y1="678.70" x2="783.48" y2="678.70" class="ci"/>
<line x1="626.85" y1="696.63" x2="822.37" y2="696.63" class="ci"/>
<line x1="686.52" y1="714.56" x2="924.51" y2="714.56" class="ci"/>
<line x1="492.39" y1="732.49" x2="640.56" y2="732.49" class="ci"/>
<line x1="596.72" y1="750.42" x2="759.83" y2="750.42" class="ci"/>
<line x1="696.19" y1="768.35" x2="882.49" y2="768.35" class="ci"/>
<line x1="477.47" y1="786.28" x2="695.92" y2="786.28" class="ci"/>
<line x1="685.31" y1="804.21" x2="903.99" y2="804.21" class="ci"/>
<line x1="526.14" y1="822.14" x2="718.01" y2="822.14" class="ci"/>
<line x1="621.98" y1="840.07" x2="726.04" y2="840.07" class="ci"/>
<line x1="636.40" y1="858.00" x2="813.84" y2="858.00" class="ci"/>
<rect x="693.84" y="673.18" width="11.04" height="11.04" fill="#000"/>
<rect x="719.35" y="691.49" width="10.27" height="10.27" fill="#000"/>
<rect x="800.80" y="709.88" width="9.36" height="9.36" fill="#000"/>
<rect x="561.31" y="726.63" width="11.72" height="11.72" fill="#000"/>
<rect x="672.40" y="744.82" width="11.20" height="11.20" fill="#000"/>
<rect x="784.00" y="763.09" width="10.51" height="10.51" fill="#000"/>
<rect x="582.13" y="781.40" width="9.75" height="9.75" fill="#000"/>
<rect x="789.73" y="799.34" width="9.75" height="9.75" fill="#000"/>
<rect x="616.79" y="816.96" width="10.37" height="10.37" fill="#000"/>
<rect x="666.99" y="833.13" width="13.88" height="13.88" fill="#000"/>
<rect x="719.70" y="852.62" width="10.76" height="10.76" fill="#000"/>
<line x1="477.47" y1="920.50" x2="924.51" y2="920.50" stroke="#222" stroke-width="1.5"/>
<line x1="477.47" y1="919.75" x2="477.47" y2="929.10" stroke="#222" stroke-width="1.2"/>
<text class="s" x="465.83" y="939.30" font-size="8.7" stroke="#000" stroke-width="0.2" text-anchor="middle" transform="scale(1.025,1)" xml:space="preserve">0.03</text>
<line x1="538.33" y1="919.75" x2="538.33" y2="926.00" stroke="#222" stroke-width="1.2"/>
<text class="s" x="525.20" y="939.30" font-size="8.7" stroke="#000" stroke-width="0.2" text-anchor="middle" transform="scale(1.025,1)" xml:space="preserve">0.05</text>
<line x1="618.78" y1="919.75" x2="618.78" y2="926.00" stroke="#222" stroke-width="1.2"/>
<text class="s" x="603.69" y="939.30" font-size="8.7" stroke="#000" stroke-width="0.2" text-anchor="middle" transform="scale(1.025,1)" xml:space="preserve">0.14</text>
<line x1="679.64" y1="919.75" x2="679.64" y2="926.00" stroke="#222" stroke-width="1.2"/>
<text class="s" x="663.06" y="939.30" font-size="8.7" stroke="#000" stroke-width="0.2" text-anchor="middle" transform="scale(1.025,1)" xml:space="preserve">0.27</text>
<line x1="740.50" y1="919.75" x2="740.50" y2="926.00" stroke="#222" stroke-width="1.2"/>
<text class="s" x="722.44" y="939.30" font-size="8.7" stroke="#000" stroke-width="0.2" text-anchor="middle" transform="scale(1.025,1)" xml:space="preserve">0.54</text>
<line x1="820.95" y1="919.75" x2="820.95" y2="926.00" stroke="#222" stroke-width="1.2"/>
<text class="s" x="800.93" y="939.30" font-size="8.7" stroke="#000" stroke-width="0.2" text-anchor="middle" transform="scale(1.025,1)" xml:space="preserve">1.35</text>
<line x1="881.81" y1="919.75" x2="881.81" y2="926.00" stroke="#222" stroke-width="1.2"/>
<text class="s" x="860.30" y="939.30" font-size="8.7" stroke="#000" stroke-width="0.2" text-anchor="middle" transform="scale(1.025,1)" xml:space="preserve">2.7</text>
<line x1="924.51" y1="919.75" x2="924.51" y2="929.10" stroke="#222" stroke-width="1.2"/>
<text class="s" x="901.96" y="939.30" font-size="8.7" stroke="#000" stroke-width="0.2" text-anchor="middle" transform="scale(1.025,1)" xml:space="preserve">4.39</text>
<text class="s" x="623.61" y="954.20" font-size="12.1" stroke="#000" stroke-width="0.1" transform="scale(1.025,1)" xml:space="preserve">Odds Ratio (log scale)</text>
<text class="s" x="985.85" y="641.50" font-size="11.85" font-weight="bold" transform="scale(1.025,1)" xml:space="preserve">Studies</text>
<text class="m" x="1130.63" y="639.50" font-size="11.48" letter-spacing="0.402" stroke="#000" stroke-width="0.22" xml:space="preserve">Weight</text>
<text class="m" x="1141.57" y="655.50" font-size="11.48" letter-spacing="0.402" stroke="#000" stroke-width="0.22" xml:space="preserve">(%)</text>
<text class="m" x="1195.00" y="640.70" font-size="11.48" letter-spacing="0.402" stroke="#000" stroke-width="0.22" xml:space="preserve"> Estimate (95% C.I.)</text>
<text class="m" x="1358.32" y="640.70" font-size="11.48" letter-spacing="0.402" stroke="#000" stroke-width="0.22" xml:space="preserve">Ev/Trt</text>
<text class="m" x="1412.83" y="640.70" font-size="11.48" letter-spacing="0.402" stroke="#000" stroke-width="0.22" xml:space="preserve">Ev/Ctrl</text>
<text class="s" x="985.85" y="676.00" font-size="11.85" stroke="#000" stroke-width="0.15" transform="scale(1.025,1)" xml:space="preserve">Dizdar 2012</text>
<text class="m" x="1141.57" y="674.30" font-size="11.48" letter-spacing="0.402" stroke="#000" stroke-width="0.22" xml:space="preserve">8.7</text>
<text class="m" x="1195.00" y="675.80" font-size="11.48" letter-spacing="0.402" stroke="#000" stroke-width="0.22" xml:space="preserve">0.338 (0.130, 0.881)</text>
<text class="m" x="1365.61" y="675.80" font-size="11.48" letter-spacing="0.402" stroke="#000" stroke-width="0.22" xml:space="preserve">7/61</text>
<text class="m" x="1420.12" y="675.80" font-size="11.48" letter-spacing="0.402" stroke="#000" stroke-width="0.22" xml:space="preserve">18/65</text>
<text class="s" x="985.85" y="693.36" font-size="11.85" stroke="#000" stroke-width="0.15" transform="scale(1.025,1)" xml:space="preserve">Fujii 2010</text>
<text class="m" x="1141.57" y="691.66" font-size="11.48" letter-spacing="0.402" stroke="#000" stroke-width="0.22" xml:space="preserve">7.7</text>
<text class="m" x="1195.00" y="693.16" font-size="11.48" letter-spacing="0.402" stroke="#000" stroke-width="0.22" xml:space="preserve">0.450 (0.148, 1.372)</text>
<text class="m" x="1365.61" y="693.16" font-size="11.48" letter-spacing="0.402" stroke="#000" stroke-width="0.22" xml:space="preserve">9/25</text>
<text class="m" x="1420.12" y="693.16" font-size="11.48" letter-spacing="0.402" stroke="#000" stroke-width="0.22" xml:space="preserve">15/27</text>
<text class="s" x="985.85" y="710.72" font-size="11.85" stroke="#000" stroke-width="0.15" transform="scale(1.025,1)" xml:space="preserve">Gharehbaghi 2010</text>
<text class="m" x="1141.57" y="709.02" font-size="11.48" letter-spacing="0.402" stroke="#000" stroke-width="0.22" xml:space="preserve">6.4</text>
<text class="m" x="1195.00" y="710.52" font-size="11.48" letter-spacing="0.402" stroke="#000" stroke-width="0.22" xml:space="preserve">1.132 (0.292, 4.391)</text>
<text class="m" x="1365.61" y="710.52" font-size="11.48" letter-spacing="0.402" stroke="#000" stroke-width="0.22" xml:space="preserve">5/79</text>
<text class="m" x="1427.41" y="710.52" font-size="11.48" letter-spacing="0.402" stroke="#000" stroke-width="0.22" xml:space="preserve">4/71</text>
<text class="s" x="985.85" y="728.08" font-size="11.85" stroke="#000" stroke-width="0.15" transform="scale(1.025,1)" xml:space="preserve">Gharehbaghi(2) 2014</text>
<text class="m" x="1141.57" y="726.38" font-size="11.48" letter-spacing="0.402" stroke="#000" stroke-width="0.22" xml:space="preserve">9.5</text>
<text class="m" x="1195.00" y="727.88" font-size="11.48" letter-spacing="0.402" stroke="#000" stroke-width="0.22" xml:space="preserve">0.075 (0.032, 0.173)</text>
<text class="m" x="1358.32" y="727.88" font-size="11.48" letter-spacing="0.402" stroke="#000" stroke-width="0.22" xml:space="preserve">15/66</text>
<text class="m" x="1420.12" y="727.88" font-size="11.48" letter-spacing="0.402" stroke="#000" stroke-width="0.22" xml:space="preserve">51/64</text>
<text class="s" x="985.85" y="745.44" font-size="11.85" stroke="#000" stroke-width="0.15" transform="scale(1.025,1)" xml:space="preserve">Karadag 2014</text>
<text class="m" x="1141.57" y="743.74" font-size="11.48" letter-spacing="0.402" stroke="#000" stroke-width="0.22" xml:space="preserve">8.9</text>
<text class="m" x="1195.00" y="745.24" font-size="11.48" letter-spacing="0.402" stroke="#000" stroke-width="0.22" xml:space="preserve">0.265 (0.105, 0.673)</text>
<text class="m" x="1365.61" y="745.24" font-size="11.48" letter-spacing="0.402" stroke="#000" stroke-width="0.22" xml:space="preserve">9/46</text>
<text class="m" x="1420.12" y="745.24" font-size="11.48" letter-spacing="0.402" stroke="#000" stroke-width="0.22" xml:space="preserve">22/46</text>
<text class="s" x="985.85" y="762.80" font-size="11.85" stroke="#000" stroke-width="0.15" transform="scale(1.025,1)" xml:space="preserve">Lemyre  2017</text>
<text class="m" x="1141.57" y="761.10" font-size="11.48" letter-spacing="0.402" stroke="#000" stroke-width="0.22" xml:space="preserve">8.1</text>
<text class="m" x="1195.00" y="762.60" font-size="11.48" letter-spacing="0.402" stroke="#000" stroke-width="0.22" xml:space="preserve">0.941 (0.326, 2.721)</text>
<text class="m" x="1365.61" y="762.60" font-size="11.48" letter-spacing="0.402" stroke="#000" stroke-width="0.22" xml:space="preserve">8/42</text>
<text class="m" x="1427.41" y="762.60" font-size="11.48" letter-spacing="0.402" stroke="#000" stroke-width="0.22" xml:space="preserve">9/45</text>
<text class="s" x="985.85" y="780.16" font-size="11.85" stroke="#000" stroke-width="0.15" transform="scale(1.025,1)" xml:space="preserve">Malloy 2005</text>
<text class="m" x="1148.86" y="778.46" font-size="11.48" letter-spacing="0.402" stroke="#000" stroke-width="0.22" xml:space="preserve">7</text>
<text class="m" x="1195.00" y="779.96" font-size="11.48" letter-spacing="0.402" stroke="#000" stroke-width="0.22" xml:space="preserve">0.094 (0.027, 0.325)</text>
<text class="m" x="1365.61" y="779.96" font-size="11.48" letter-spacing="0.402" stroke="#000" stroke-width="0.22" xml:space="preserve">5/29</text>
<text class="m" x="1420.12" y="779.96" font-size="11.48" letter-spacing="0.402" stroke="#000" stroke-width="0.22" xml:space="preserve">20/29</text>
<text class="s" x="985.85" y="797.52" font-size="11.85" stroke="#000" stroke-width="0.15" transform="scale(1.025,1)" xml:space="preserve">Mercado 2010</text>
<text class="m" x="1148.86" y="795.82" font-size="11.48" letter-spacing="0.402" stroke="#000" stroke-width="0.22" xml:space="preserve">7</text>
<text class="m" x="1195.00" y="797.32" font-size="11.48" letter-spacing="0.402" stroke="#000" stroke-width="0.22" xml:space="preserve">1.000 (0.288, 3.476)</text>
<text class="m" x="1365.61" y="797.32" font-size="11.48" letter-spacing="0.402" stroke="#000" stroke-width="0.22" xml:space="preserve">9/20</text>
<text class="m" x="1427.41" y="797.32" font-size="11.48" letter-spacing="0.402" stroke="#000" stroke-width="0.22" xml:space="preserve">9/20</text>
<text class="s" x="985.85" y="814.88" font-size="11.85" stroke="#000" stroke-width="0.15" transform="scale(1.025,1)" xml:space="preserve">Mussavi 2016</text>
<text class="m" x="1141.57" y="813.18" font-size="11.48" letter-spacing="0.402" stroke="#000" stroke-width="0.22" xml:space="preserve">7.9</text>
<text class="m" x="1195.00" y="814.68" font-size="11.48" letter-spacing="0.402" stroke="#000" stroke-width="0.22" xml:space="preserve">0.140 (0.047, 0.418)</text>
<text class="m" x="1365.61" y="814.68" font-size="11.48" letter-spacing="0.402" stroke="#000" stroke-width="0.22" xml:space="preserve">4/62</text>
<text class="m" x="1420.12" y="814.68" font-size="11.48" letter-spacing="0.402" stroke="#000" stroke-width="0.22" xml:space="preserve">34/103</text>
<text class="s" x="985.85" y="832.24" font-size="11.85" stroke="#000" stroke-width="0.15" transform="scale(1.025,1)" xml:space="preserve">Najafian 2016</text>
<text class="m" x="1141.57" y="830.54" font-size="11.48" letter-spacing="0.402" stroke="#000" stroke-width="0.22" xml:space="preserve">9.2</text>
<text class="m" x="1195.00" y="832.04" font-size="11.48" letter-spacing="0.402" stroke="#000" stroke-width="0.22" xml:space="preserve">0.459 (0.190, 1.111)</text>
<text class="m" x="1358.32" y="832.04" font-size="11.48" letter-spacing="0.402" stroke="#000" stroke-width="0.22" xml:space="preserve">10/56</text>
<text class="m" x="1420.12" y="832.04" font-size="11.48" letter-spacing="0.402" stroke="#000" stroke-width="0.22" xml:space="preserve">18/56</text>
<text class="s" x="985.85" y="849.60" font-size="11.85" stroke="#000" stroke-width="0.15" transform="scale(1.025,1)" xml:space="preserve">Ramanathan 2014</text>
<text class="m" x="1137.92" y="847.90" font-size="11.48" letter-spacing="0.402" stroke="#000" stroke-width="0.22" xml:space="preserve">11.2</text>
<text class="m" x="1195.00" y="849.40" font-size="11.48" letter-spacing="0.402" stroke="#000" stroke-width="0.22" xml:space="preserve">0.283 (0.169, 0.473)</text>
<text class="m" x="1358.32" y="849.40" font-size="11.48" letter-spacing="0.402" stroke="#000" stroke-width="0.22" xml:space="preserve">74/195</text>
<text class="m" x="1420.12" y="849.40" font-size="11.48" letter-spacing="0.402" stroke="#000" stroke-width="0.22" xml:space="preserve">67/98</text>
<text class="s" x="985.85" y="866.96" font-size="11.85" stroke="#000" stroke-width="0.15" transform="scale(1.025,1)" xml:space="preserve">Speer 1995</text>
<text class="m" x="1141.57" y="865.26" font-size="11.48" letter-spacing="0.402" stroke="#000" stroke-width="0.22" xml:space="preserve">8.4</text>
<text class="m" x="1195.00" y="866.76" font-size="11.48" letter-spacing="0.402" stroke="#000" stroke-width="0.22" xml:space="preserve">0.453 (0.165, 1.245)</text>
<text class="m" x="1358.32" y="866.76" font-size="11.48" letter-spacing="0.402" stroke="#000" stroke-width="0.22" xml:space="preserve">17/32</text>
<text class="m" x="1420.12" y="866.76" font-size="11.48" letter-spacing="0.402" stroke="#000" stroke-width="0.22" xml:space="preserve">25/35</text>
<text class="s" x="985.85" y="901.80" font-size="11.85" font-weight="bold" transform="scale(1.025,1)" xml:space="preserve">Overall (I^2=6294 % , P=0.002)</text>
<text class="m" x="1195.00" y="901.60" font-size="11.48" letter-spacing="0.402" font-weight="bold" xml:space="preserve">0.326 (0.206, 0.516)</text>
<text class="m" x="1351.03" y="901.60" font-size="11.48" letter-spacing="0.402" font-weight="bold" xml:space="preserve">172/713</text>
<text class="m" x="1412.83" y="901.60" font-size="11.48" letter-spacing="0.402" font-weight="bold" xml:space="preserve">292/659</text>
<circle cx="1097.00" cy="902.10" r="1.0" fill="#000"/>
<polygon points="1647.78,897.30 1686.98,892.20 1726.20,897.30 1686.98,902.40" fill="#add8e6" stroke="#111" stroke-width="1"/>
<line x1="1782.70" y1="628.40" x2="1782.70" y2="923.50" stroke="#111" stroke-width="1.2"/>
<line x1="1686.98" y1="630.90" x2="1686.98" y2="923.50" stroke="#f00" stroke-width="1.1" stroke-dasharray="3.5,3.8"/>
<line x1="1608.47" y1="671.50" x2="1771.88" y2="671.50" class="ci"/>
<line x1="1619.54" y1="688.87" x2="1809.71" y2="688.87" class="ci"/>
<line x1="1677.57" y1="706.24" x2="1909.05" y2="706.24" class="ci"/>
<line x1="1488.75" y1="723.61" x2="1632.87" y2="723.61" class="ci"/>
<line x1="1590.23" y1="740.98" x2="1748.88" y2="740.98" class="ci"/>
<line x1="1686.98" y1="758.35" x2="1868.19" y2="758.35" class="ci"/>
<line x1="1474.24" y1="775.72" x2="1686.72" y2="775.72" class="ci"/>
<line x1="1676.39" y1="793.09" x2="1889.10" y2="793.09" class="ci"/>
<line x1="1521.58" y1="810.46" x2="1708.21" y2="810.46" class="ci"/>
<line x1="1640.87" y1="827.83" x2="1791.69" y2="827.83" class="ci"/>
<line x1="1630.87" y1="845.20" x2="1718.76" y2="845.20" class="ci"/>
<line x1="1628.83" y1="862.57" x2="1801.41" y2="862.57" class="ci"/>
<rect x="1684.95" y="666.38" width="10.23" height="10.23" fill="#000"/>
<rect x="1709.73" y="684.09" width="9.55" height="9.55" fill="#000"/>
<rect x="1788.91" y="701.87" width="8.75" height="8.75" fill="#000"/>
<rect x="1556.08" y="718.19" width="10.83" height="10.83" fill="#000"/>
<rect x="1664.10" y="735.80" width="10.37" height="10.37" fill="#000"/>
<rect x="1772.62" y="753.47" width="9.76" height="9.76" fill="#000"/>
<rect x="1576.23" y="771.17" width="9.09" height="9.09" fill="#000"/>
<rect x="1778.16" y="788.55" width="9.09" height="9.09" fill="#000"/>
<rect x="1609.98" y="805.64" width="9.64" height="9.64" fill="#000"/>
<rect x="1710.89" y="822.52" width="10.61" height="10.61" fill="#000"/>
<rect x="1668.10" y="838.40" width="13.60" height="13.60" fill="#000"/>
<rect x="1710.08" y="857.58" width="9.98" height="9.98" fill="#000"/>
<line x1="1474.24" y1="923.50" x2="1909.05" y2="923.50" stroke="#222" stroke-width="1.5"/>
<line x1="1474.24" y1="922.75" x2="1474.24" y2="932.10" stroke="#222" stroke-width="1.2"/>
<text class="s" x="1438.29" y="941.90" font-size="8.6" stroke="#000" stroke-width="0.2" text-anchor="middle" transform="scale(1.025,1)" xml:space="preserve">0.03</text>
<line x1="1533.44" y1="922.75" x2="1533.44" y2="929.00" stroke="#222" stroke-width="1.2"/>
<text class="s" x="1496.04" y="941.90" font-size="8.6" stroke="#000" stroke-width="0.2" text-anchor="middle" transform="scale(1.025,1)" xml:space="preserve">0.05</text>
<line x1="1611.69" y1="922.75" x2="1611.69" y2="929.00" stroke="#222" stroke-width="1.2"/>
<text class="s" x="1572.38" y="941.90" font-size="8.6" stroke="#000" stroke-width="0.2" text-anchor="middle" transform="scale(1.025,1)" xml:space="preserve">0.14</text>
<line x1="1670.88" y1="922.75" x2="1670.88" y2="929.00" stroke="#222" stroke-width="1.2"/>
<text class="s" x="1630.13" y="941.90" font-size="8.6" stroke="#000" stroke-width="0.2" text-anchor="middle" transform="scale(1.025,1)" xml:space="preserve">0.27</text>
<line x1="1730.08" y1="922.75" x2="1730.08" y2="929.00" stroke="#222" stroke-width="1.2"/>
<text class="s" x="1687.88" y="941.90" font-size="8.6" stroke="#000" stroke-width="0.2" text-anchor="middle" transform="scale(1.025,1)" xml:space="preserve">0.54</text>
<line x1="1808.33" y1="922.75" x2="1808.33" y2="929.00" stroke="#222" stroke-width="1.2"/>
<text class="s" x="1764.22" y="941.90" font-size="8.6" stroke="#000" stroke-width="0.2" text-anchor="middle" transform="scale(1.025,1)" xml:space="preserve">1.35</text>
<line x1="1867.52" y1="922.75" x2="1867.52" y2="929.00" stroke="#222" stroke-width="1.2"/>
<text class="s" x="1821.97" y="941.90" font-size="8.6" stroke="#000" stroke-width="0.2" text-anchor="middle" transform="scale(1.025,1)" xml:space="preserve">2.7</text>
<line x1="1909.05" y1="922.75" x2="1909.05" y2="932.10" stroke="#222" stroke-width="1.2"/>
<text class="s" x="1862.49" y="941.90" font-size="8.6" stroke="#000" stroke-width="0.2" text-anchor="middle" transform="scale(1.025,1)" xml:space="preserve">4.39</text>
<text class="s" x="1591.51" y="955.40" font-size="12.0" stroke="#000" stroke-width="0.1" transform="scale(1.025,1)" xml:space="preserve">Odds Ratio (log scale)</text>
<text class="t" x="579.0" y="30.8" xml:space="preserve"><tspan font-size="43" font-weight="bold">A</tspan><tspan font-size="30.4" font-weight="bold"> – outcome: BPD</tspan></text>
<text class="t" x="437.8" y="62.4" textLength="527.8" lengthAdjust="spacing" word-spacing="-2.5" xml:space="preserve"><tspan font-size="25">Poractant-</tspan><tspan font-size="25" font-weight="bold">α</tspan><tspan font-size="25"> (200 mg/kg) </tspan><tspan font-size="25" font-style="italic">vs</tspan><tspan font-size="25"> Bovine surfactants</tspan></text>
<text class="t" x="1558.5" y="31.1" xml:space="preserve"><tspan font-size="43" font-weight="bold">B</tspan><tspan font-size="30.4" font-weight="bold"> – outcome: BPD</tspan></text>
<text class="t" x="1432.0" y="66.2" textLength="511.3" lengthAdjust="spacing" word-spacing="-2.5" xml:space="preserve"><tspan font-size="25">Poractant-</tspan><tspan font-size="25" font-weight="bold">α</tspan><tspan font-size="25"> (any dose) </tspan><tspan font-size="25" font-style="italic">vs</tspan><tspan font-size="25"> Bovine surfactants</tspan></text>
<text class="t" x="613.6" y="504.6" xml:space="preserve"><tspan font-size="43" font-weight="bold">C</tspan><tspan font-size="30.4" font-weight="bold"> – outcome:</tspan></text>
<text class="t" x="655.0" y="540.6" xml:space="preserve"><tspan font-size="30.4" font-weight="bold">redosing</tspan></text>
<text class="t" x="438.2" y="576.5" textLength="526.2" lengthAdjust="spacing" word-spacing="-2.5" xml:space="preserve"><tspan font-size="25">Poractant-</tspan><tspan font-size="25" font-weight="bold">α</tspan><tspan font-size="25"> (200 mg/kg) </tspan><tspan font-size="25" font-style="italic">vs</tspan><tspan font-size="25"> Bovine surfactants</tspan></text>
<text class="t" x="1579.5" y="504.3" xml:space="preserve"><tspan font-size="43" font-weight="bold">D</tspan><tspan font-size="30.4" font-weight="bold"> – outcome:</tspan></text>
<text class="t" x="1618.9" y="540" letter-spacing="0.2" xml:space="preserve"><tspan font-size="30.4" font-weight="bold">redosing</tspan></text>
<text class="t" x="1410.9" y="576.6" textLength="511.6" lengthAdjust="spacing" word-spacing="-2.5" xml:space="preserve"><tspan font-size="25">Poractant-</tspan><tspan font-size="25" font-weight="bold">α</tspan><tspan font-size="25"> (any dose) </tspan><tspan font-size="25" font-style="italic">vs</tspan><tspan font-size="25"> Bovine surfactants</tspan></text>
</svg>
</body></html>
